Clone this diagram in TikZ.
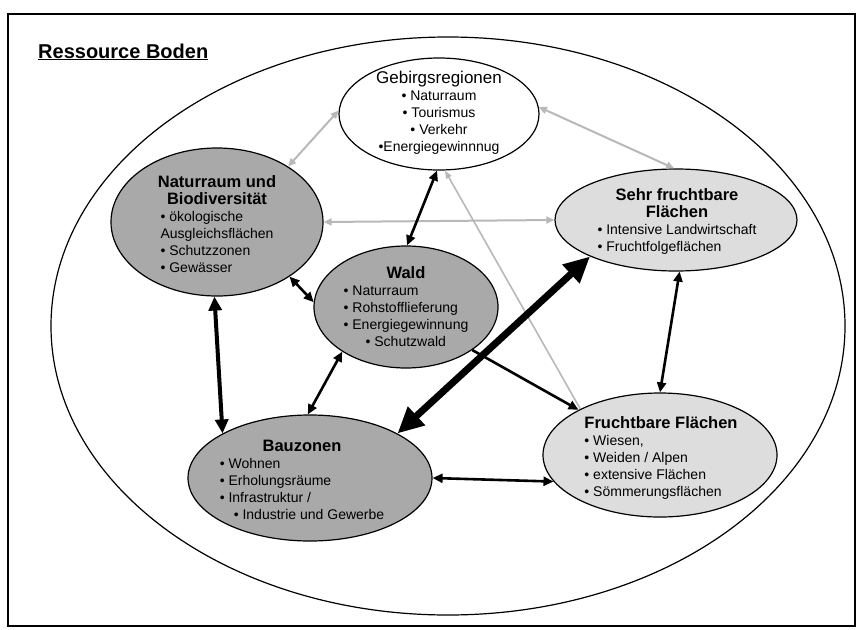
\documentclass[tikz,border=0pt]{standalone}
\usepackage{fontspec}
\setmainfont{Liberation Sans}
\usetikzlibrary{shapes.geometric,arrows.meta}

\definecolor{zonedark}{HTML}{A9A9A9}
\definecolor{zonelight}{HTML}{DDDDDD}
\definecolor{linkgrey}{HTML}{B8B8B8}

\tikzset{
  zone/.style={draw,ellipse,line width=1.2pt,inner sep=0pt},
  txt/.style={font=\fontsize{14}{17}\selectfont,inner sep=0pt},
  link/.style={line width=2.6pt,{Triangle[length=10pt,width=9pt]}-{Triangle[length=10pt,width=9pt]}},
  faint/.style={draw=linkgrey,line width=2pt,{Triangle[length=8pt,width=7pt]}-{Triangle[length=8pt,width=7pt]}}
}
\newcommand{\hd}[1]{\textbf{\fontsize{16.5}{19}\selectfont #1}}

\begin{document}
\begin{tikzpicture}[x=1pt,y=-1pt]
		\useasboundingbox (0,0) rectangle (861,629);
		\draw[line width=1.3pt] (8,14) rectangle (855,626);
		\node[anchor=base west,inner sep=0pt,font=\fontsize{20}{24}\selectfont\bfseries] (title) at (38,58) {\underline{Ressource Boden}};
		% outer ellipse
		\node[zone,minimum width=794pt,minimum height=578pt] (boden) at (448,326) {};
		% zones
		\node[zone,fill=white,minimum width=200pt,minimum height=112pt] (geb) at (439,114) {};
		\node[zone,fill=zonedark,minimum width=212pt,minimum height=148pt] (natur) at (217,222) {};
		\node[zone,fill=zonedark,minimum width=184pt,minimum height=122pt] (wald) at (406,307) {};
		\node[zone,fill=zonelight,minimum width=242pt,minimum height=102pt] (sehr) at (676,220) {};
		\node[zone,fill=zonelight,minimum width=234pt,minimum height=124pt] (frucht) at (660,455) {};
		\node[zone,fill=zonedark,minimum width=244pt,minimum height=126pt] (bau) at (310,478) {};
		% texts
		\node[txt,align=center] (geb-t) at (439,113) {{\fontsize{17}{19}\selectfont Gebirgsregionen}\\ • Naturraum\\ • Tourismus\\ • Verkehr\\ •Energiegewinnnug};
		\node[txt,align=center] (natur-t) at (217,227) {\hd{Naturraum und}\\ \hd{Biodiversität}\\ \begin{tabular}[t]{@{}l@{}}• ökologische\\ Ausgleichsflächen\\ • Schutzzonen\\ • Gewässer\end{tabular}};
		\node[txt,align=center] (wald-t) at (406,309) {\hd{Wald}\\ \begin{tabular}[t]{@{}l@{}}• Naturraum\\ • Rohstofflieferung\\ • Energiegewinnung\\ \hspace*{22pt}• Schutzwald\end{tabular}};
		\node[txt,align=center] (sehr-t) at (677,223) {\hd{Sehr fruchtbare}\\ \hd{Flächen}\\ \begin{tabular}[t]{@{}l@{}}• Intensive Landwirtschaft\\ • Fruchtfolgeflächen\end{tabular}};
		\node[txt,align=left] (frucht-t) at (661,458) {\hd{Fruchtbare Flächen}\\ • Wiesen,\\ • Weiden / Alpen\\ • extensive Flächen\\ • Sömmerungsflächen};
		\node[txt,align=center] (bau-t) at (302,482) {\hd{Bauzonen}\\ \begin{tabular}[t]{@{}l@{}}• Wohnen\\ • Erholungsräume\\ • Infrastruktur /\\ \hspace*{14pt}• Industrie und Gewerbe\end{tabular}};
		% grey links
		\draw[faint] (natur.38) -- (geb.178);
		\draw[faint] (geb.4) -- (sehr.92);
		\draw[faint] (natur.0) -- (sehr.180);
		\draw[draw=linkgrey,line width=1.6pt,{Triangle[length=8pt,width=6pt]}-] (geb.276) -- (frucht.150);
		% black links
		\draw[link] (geb.268) -- (wald.89);
		\draw[link] (natur.323.6) -- (wald.177);
		\draw[link,line width=4pt,{Triangle[length=14pt,width=13pt]}-{Triangle[length=14pt,width=13pt]}] (natur.268) -- (bau.153.9);
		\draw[link] (wald.215.7) -- (bau.92.7);
		\draw[link,-{Triangle[length=10pt,width=9pt]}] (wald.327.3) -- (frucht.151.2);
		\draw[link,line width=7pt,{Triangle[length=26pt,width=24pt]}-{Triangle[length=26pt,width=24pt]}] (bau.27.9) -- (sehr.203.8);
		\draw[link] (sehr.274.5) -- (frucht.90);
		\draw[link] (bau.0) -- (frucht.194.5);
\end{tikzpicture}
\end{document}
